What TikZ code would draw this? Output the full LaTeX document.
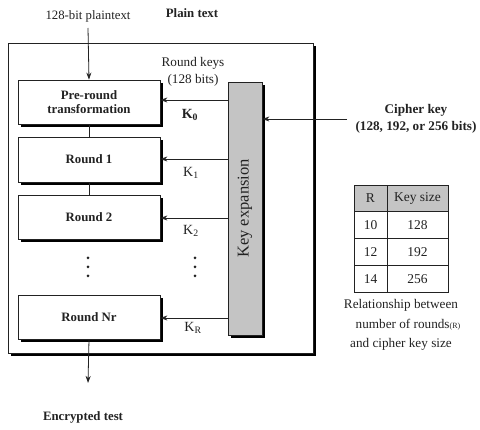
\documentclass[tikz,border=0pt]{standalone}
\usepackage{fontspec}
\setmainfont{Liberation Serif}
\usetikzlibrary{arrows.meta,shadows}
\definecolor{ink}{HTML}{222222}
\definecolor{keygray}{HTML}{C4C4C4}
\begin{document}
\begin{tikzpicture}[x=1pt,y=-1pt,
  font=\fontsize{12.8}{14}\selectfont, text=ink,
  shad/.style={drop shadow={shadow xshift=3.2pt,shadow yshift=-3.2pt,fill=black,opacity=1}},
  stagebox/.style={draw=ink,line width=0.8pt,fill=white,shad,minimum width=142pt,minimum height=44pt,inner sep=0pt,font=\fontsize{12.8}{14}\selectfont\bfseries,align=center},
  arr/.style={draw=ink,line width=0.8pt,-{Stealth[length=7pt,width=5pt]}},
  ln/.style={draw=ink,line width=0.8pt},
  klab/.style={font=\fontsize{14}{15}\selectfont},
  cell/.style={draw=ink,line width=0.8pt,minimum height=26.75pt,inner sep=0pt,font=\fontsize{13.5}{15}\selectfont}]
\useasboundingbox (0,0) rectangle (480,430);
% outer frame
\node[draw=ink,line width=0.9pt,fill=white,shad,minimum width=305pt,minimum height=310pt,inner sep=0pt] (frame) at (160.5,198) {};
% texts top
\node (pt) at (88,16) {128-bit plaintext};
\node[font=\fontsize{12.8}{14}\selectfont\bfseries] (plain) at (192,13) {Plain text};
\node[align=center,font=\fontsize{13.2}{17}\selectfont] (rk) at (193,72) {Round keys\\(128 bits)};
% stage boxes
\node[stagebox] (pre) at (89,102) {Pre-round\\transformation};
\node[stagebox,minimum height=45pt] (r1) at (89,159.5) {Round 1};
\node[stagebox] (r2) at (89,217) {Round 2};
\node[stagebox] (rn) at (89,317) {Round Nr};
% key expansion
\node[draw=ink,line width=0.8pt,fill=keygray,shad,minimum width=34pt,minimum height=253pt,inner sep=0pt] (kx) at (245,208.5) {};
\node[rotate=90,font=\fontsize{16.5}{18}\selectfont] (kxl) at (kx.center) {Key expansion};
% vertical flow
\coordinate (ptin) at (88,28);
\draw[arr] (ptin) -- (pre.north);
\draw[ln] (pre.south) -- (r1.north);
\draw[ln] (r1.south) -- (r2.north);
\coordinate (enc) at (88,383);
\draw[arr] (rn.south) -- (enc);
\node[font=\fontsize{12.8}{14}\selectfont\bfseries] (enct) at (83,417) {Encrypted test};
% dots
\foreach \yy in {258,267,276}{
  \fill[ink] (88,\yy) circle (1.5pt);
  \fill[ink] (195,\yy) circle (1.5pt);
}
% key arrows
\draw[arr] (kx.west |- 0,100) -- (pre.east |- 0,100);
\draw[arr] (kx.west |- 0,159) -- (r1.east |- 0,159);
\draw[arr] (kx.west |- 0,218) -- (r2.east |- 0,218);
\draw[arr] (kx.west |- 0,318) -- (rn.east |- 0,318);
\node[klab,font=\fontsize{14}{15}\selectfont\bfseries] (k0) at (190,115) {K\textsubscript{0}};
\node[klab] (k1) at (191,173) {K\textsubscript{1}};
\node[klab] (k2) at (191,231) {K\textsubscript{2}};
\node[klab] (kr) at (193,328) {K\textsubscript{R}};
% cipher key
\coordinate (ck) at (347,119);
\draw[arr] (ck) -- (kx.east |- ck);
\node[align=center,font=\fontsize{13.2}{17}\selectfont\bfseries] (ckt) at (416,119) {Cipher key\\(128, 192, or 256 bits)};
% table
\node[cell,fill=keygray,minimum width=33pt] (h1) at (370.5,198.4) {R};
\node[cell,fill=keygray,minimum width=61pt] (h2) at (417.5,198.4) {Key size};
\node[cell,minimum width=33pt] (a1) at (370.5,225.1) {10};
\node[cell,minimum width=61pt] (a2) at (417.5,225.1) {128};
\node[cell,minimum width=33pt] (b1) at (370.5,251.9) {12};
\node[cell,minimum width=61pt] (b2) at (417.5,251.9) {192};
\node[cell,minimum width=33pt] (c1) at (370.5,278.6) {14};
\node[cell,minimum width=61pt] (c2) at (417.5,278.6) {256};
\node[font=\fontsize{13.2}{15}\selectfont] (cap1) at (401,305) {Relationship between};
\node[font=\fontsize{13.2}{15}\selectfont] (cap2) at (408,325) {number of rounds{\fontsize{8}{9}\selectfont(R)}};
\node[font=\fontsize{13.2}{15}\selectfont] (cap3) at (401,344) {and cipher key size};
\end{tikzpicture}
\end{document}
